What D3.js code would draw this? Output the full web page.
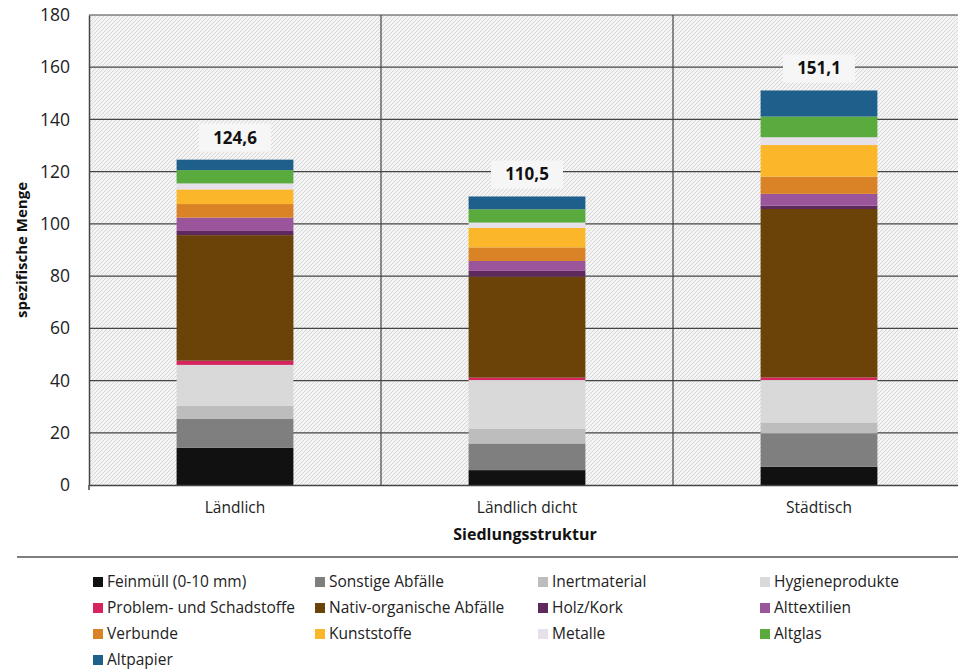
<!DOCTYPE html>
<html lang="de">
<head>
<meta charset="UTF-8">
<title>Siedlungsstruktur</title>
<script src="https://cdn.jsdelivr.net/npm/d3@7"></script>
<style>
  body { margin: 0; background: #fff; }
  svg { display: block; font-family: "Open Sans", "Noto Sans", sans-serif; }
</style>
</head>
<body>
<svg id="mainsvg" width="958" height="672"></svg>
<script>
// data
const categories = ["Ländlich", "Ländlich dicht", "Städtisch"];
const totals = ["124,6", "110,5", "151,1"];
const fractions = ["Feinmüll (0-10 mm)", "Sonstige Abfälle", "Inertmaterial", "Hygieneprodukte",
  "Problem- und Schadstoffe", "Nativ-organische Abfälle", "Holz/Kork", "Alttextilien",
  "Verbunde", "Kunststoffe", "Metalle", "Altglas", "Altpapier"];
const laendlich      = [14.3, 11.0, 5.0, 15.7, 1.6, 48.1, 1.6, 5.1, 5.2, 5.6, 2.3, 5.1, 4.0];
const laendlichDicht = [5.7, 10.2, 5.7, 18.6, 0.9, 38.7, 2.2, 3.8, 5.2, 7.5, 2.0, 5.1, 4.9];
const staedtisch     = [7.0, 12.8, 4.1, 16.3, 1.0, 64.5, 1.3, 4.5, 6.6, 12.1, 3.0, 7.9, 10.0];
const colors = ["#111111", "#7f7f7f", "#bdbdbd", "#d9d9d9", "#d6245f", "#6b4309", "#5e2a5e",
  "#9b559b", "#d98326", "#fbb62a", "#e6e0ea", "#5aab3d", "#1e5f8c"];
const yTicks = [0, 20, 40, 60, 80, 100, 120, 140, 160, 180];

const svg = d3.select('#mainsvg');
const margin = { top: 15, left: 89, bottom: 187 };
const height = +svg.attr('height');

const rows = categories.map((c, i) => {
  const vals = [laendlich, laendlichDicht, staedtisch][i];
  const r = { cat: c, total: totals[i] };
  fractions.forEach((f, j) => r[f] = vals[j]);
  return r;
});
const stack = d3.stack().keys(fractions)(rows);

const xScale = d3.scaleBand().domain(categories).range([margin.left, 965]).padding(0);
const yScale = d3.scaleLinear().domain([0, 180]).range([height - margin.bottom, margin.top]);
const color = d3.scaleOrdinal().domain(fractions).range(colors);
const barW = xScale.bandwidth() * 0.4;

// hatched background
const defs = svg.append('defs');
const pat = defs.append('pattern').attr('id', 'hatch').attr('patternUnits', 'userSpaceOnUse')
  .attr('width', 4).attr('height', 4);
pat.append('rect').attr('width', 4).attr('height', 4).attr('fill', '#f4f4f4');
pat.append('path').attr('d', 'M-1,1 l2,-2 M0,4 l4,-4 M3,5 l2,-2')
  .attr('stroke', '#c8c8c8').attr('stroke-width', 0.7);

const x0 = xScale.range()[0], x1 = xScale.range()[1];
svg.append('rect').attr('x', x0).attr('y', yScale(180))
  .attr('width', x1 - x0).attr('height', yScale(0) - yScale(180)).attr('fill', 'url(#hatch)');

// grid
svg.append('g').selectAll('line').data(yTicks.filter(d => d > 0)).join('line')
  .attr('x1', x0).attr('x2', x1).attr('y1', d => yScale(d)).attr('y2', d => yScale(d))
  .attr('stroke', '#444').attr('stroke-width', 1.2);
svg.append('g').selectAll('line').data(categories.slice(1)).join('line')
  .attr('x1', d => xScale(d)).attr('x2', d => xScale(d))
  .attr('y1', yScale(180)).attr('y2', yScale(0))
  .attr('stroke', '#444').attr('stroke-width', 1.2);

// bars
svg.append('g').selectAll('g').data(stack).join('g')
  .attr('fill', d => color(d.key))
  .selectAll('rect').data(d => d).join('rect')
  .attr('x', d => xScale(d.data.cat) + xScale.bandwidth() / 2 - barW / 2)
  .attr('width', barW)
  .attr('y', d => yScale(d[1]))
  .attr('height', d => yScale(d[0]) - yScale(d[1]));

// total labels
const lab = svg.append('g').selectAll('g').data(rows).join('g')
  .attr('transform', (d, i) => `translate(${xScale(d.cat) + xScale.bandwidth() / 2},${yScale(d3.sum([laendlich, laendlichDicht, staedtisch][i])) - 22})`);
lab.append('rect').attr('x', -36).attr('y', -14).attr('width', 72).attr('height', 28).attr('fill', '#f6f6f6');
lab.append('text').attr('text-anchor', 'middle').attr('dy', '0.35em')
  .attr('font-size', 17).attr('font-weight', 'bold').attr('fill', '#111').text(d => d.total);

// axes
svg.append('g').attr('transform', `translate(${x0},0)`)
  .call(d3.axisLeft(yScale).tickValues(yTicks).tickSize(0).tickPadding(19))
  .attr('font-family', null)
  .call(g => g.select('.domain').attr('stroke', '#444').attr('stroke-width', 1.5))
  .call(g => g.selectAll('.tick text').attr('font-size', 17.5).attr('fill', '#222'));
svg.append('g').attr('transform', `translate(0,${yScale(0)})`)
  .call(d3.axisBottom(xScale).tickSize(0).tickPadding(17))
  .attr('font-family', null)
  .call(g => g.select('.domain').attr('stroke', '#444').attr('stroke-width', 1.5))
  .call(g => g.selectAll('.tick text').attr('font-size', 15.5).attr('fill', '#222'));
svg.append('line').attr('x1', x0).attr('x2', x0).attr('y1', yScale(0)).attr('y2', yScale(0) + 5)
  .attr('stroke', '#444').attr('stroke-width', 1.5);

svg.append('text').attr('transform', `translate(27,${yScale(90)}) rotate(-90)`)
  .attr('text-anchor', 'middle').attr('font-size', 15).attr('font-weight', 'bold')
  .attr('fill', '#111').text('spezifische Menge');
svg.append('text').attr('x', xScale('Ländlich dicht') + xScale.bandwidth() / 2 - 2).attr('y', 540)
  .attr('text-anchor', 'middle').attr('font-size', 16).attr('font-weight', 'bold')
  .attr('fill', '#111').text('Siedlungsstruktur');

// separator
svg.append('line').attr('x1', 17).attr('x2', 958).attr('y1', 557).attr('y2', 557)
  .attr('stroke', '#555').attr('stroke-width', 1.5);

// legend
const colX = [93, 315, 538, 760];
const leg = svg.append('g').selectAll('g').data(fractions).join('g')
  .attr('transform', (d, i) => `translate(${colX[i % 4]},${582 + Math.floor(i / 4) * 26})`);
leg.append('rect').attr('y', -5).attr('width', 10).attr('height', 10).attr('fill', d => color(d));
leg.append('text').attr('x', 14).attr('dy', '0.35em').attr('font-size', 15.5)
  .attr('fill', '#222').text(d => d);
</script>
</body>
</html>
